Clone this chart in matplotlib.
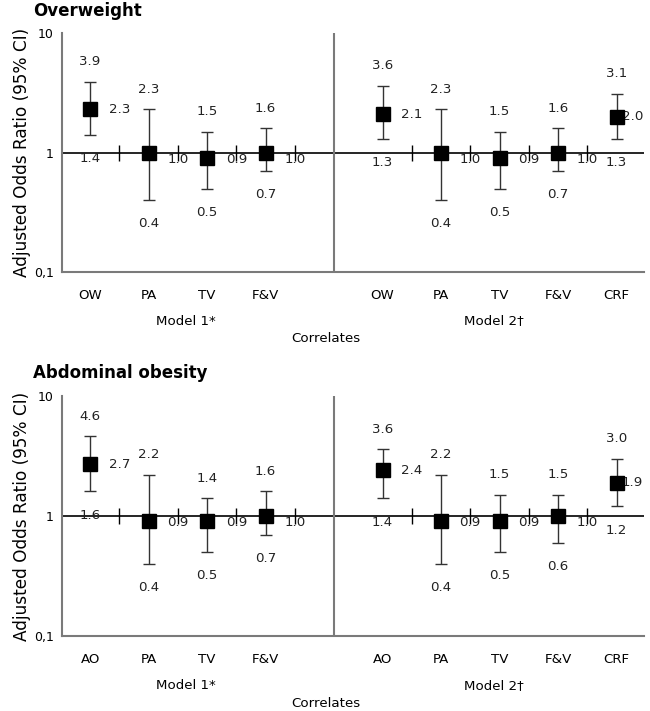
import numpy as np
import matplotlib
matplotlib.use('Agg')
import matplotlib.pyplot as plt
import matplotlib.transforms as mtrans

# data: odds ratio estimate, lower and upper 95% CI
ow_m1_cats = ['OW', 'PA', 'TV', 'F&V']
ow_m1_est = [2.3, 1.0, 0.9, 1.0]
ow_m1_lo = [1.4, 0.4, 0.5, 0.7]
ow_m1_hi = [3.9, 2.3, 1.5, 1.6]

ow_m2_cats = ['OW', 'PA', 'TV', 'F&V', 'CRF']
ow_m2_est = [2.1, 1.0, 0.9, 1.0, 2.0]
ow_m2_lo = [1.3, 0.4, 0.5, 0.7, 1.3]
ow_m2_hi = [3.6, 2.3, 1.5, 1.6, 3.1]

ao_m1_cats = ['AO', 'PA', 'TV', 'F&V']
ao_m1_est = [2.7, 0.9, 0.9, 1.0]
ao_m1_lo = [1.6, 0.4, 0.5, 0.7]
ao_m1_hi = [4.6, 2.2, 1.4, 1.6]

ao_m2_cats = ['AO', 'PA', 'TV', 'F&V', 'CRF']
ao_m2_est = [2.4, 0.9, 0.9, 1.0, 1.9]
ao_m2_lo = [1.4, 0.4, 0.5, 0.6, 1.2]
ao_m2_hi = [3.6, 2.2, 1.5, 1.5, 3.0]

GRAY = '#7a7a7a'
XMIN, XMAX = -0.48, 9.47
DIV = 4.17
FS = 9.6


def draw_panel(ax, groups):
    ticks, labels = [], []
    for start, cats, est, lo, hi in groups:
        x = np.arange(len(cats)) + start
        est = np.array(est); lo = np.array(lo); hi = np.array(hi)
        ax.errorbar(x, est, yerr=[est - lo, hi - est], fmt='none',
                    ecolor='#333333', elinewidth=1, capsize=4, capthick=1, zorder=3)
        ax.plot(x, est, 's', color='black', ms=9.5, zorder=4)
        # separator ticks on the OR=1 line
        ax.plot(x + 0.5, np.ones(len(x)), '|', color='black', ms=11, mew=1, zorder=2)
        for xi, e, l, h in zip(x, est, lo, hi):
            ax.annotate(f'{h:.1f}', (xi, h), xytext=(0, 14.5), textcoords='offset points',
                        ha='center', va='center', fontsize=FS, color='#222222')
            ax.annotate(f'{l:.1f}', (xi, l), xytext=(0, -17), textcoords='offset points',
                        ha='center', va='center', fontsize=FS, color='#222222')
            tx = min(xi + 0.5, XMAX - 0.2)
            if e <= 1.05:
                ax.annotate(f'{e:.1f}', (tx, 1), xytext=(0, -5), textcoords='offset points',
                            ha='center', va='center', fontsize=FS, color='#222222')
            else:
                ax.annotate(f'{e:.1f}', (tx, e), xytext=(0, 0), textcoords='offset points',
                            ha='center', va='center', fontsize=FS, color='#222222')
        ticks += list(x)
        labels += cats

    ax.set_yscale('log')
    ax.set_ylim(0.1, 10)
    ax.set_xlim(XMIN, XMAX)
    ax.axhline(1, color='black', lw=1.2, zorder=1)
    ax.axvline(DIV, color=GRAY, lw=1.5, zorder=1)
    for s in ['top', 'right']:
        ax.spines[s].set_visible(False)
    for s in ['left', 'bottom']:
        ax.spines[s].set_color(GRAY)
        ax.spines[s].set_linewidth(1.5)
    ax.set_yticks([0.1, 1, 10])
    ax.set_yticklabels(['0,1', '1', '10'])
    ax.minorticks_off()
    ax.set_xticks(ticks)
    ax.set_xticklabels(labels)
    ax.tick_params(axis='x', length=0, pad=12, labelsize=FS)
    ax.tick_params(axis='y', length=0, pad=6, labelsize=9)
    ax.set_ylabel('Adjusted Odds Ratio (95% CI)', fontsize=12.2, labelpad=2)
    tr = mtrans.blended_transform_factory(ax.transData, ax.transAxes)
    ax.text(1.64, -0.205, 'Model 1*', transform=tr, ha='center', va='center', fontsize=FS)
    ax.text(6.9, -0.205, 'Model 2\u2020', transform=tr, ha='center', va='center', fontsize=FS)
    ax.text(4.03, -0.28, 'Correlates', transform=tr, ha='center', va='center', fontsize=FS)


fig = plt.figure(figsize=(6.5, 7.11), dpi=100)
ax1 = fig.add_axes([0.0954, 0.6174, 0.8954, 0.3361])
ax2 = fig.add_axes([0.0954, 0.1055, 0.8954, 0.3376])

draw_panel(ax1, [(0, ow_m1_cats, ow_m1_est, ow_m1_lo, ow_m1_hi),
                 (5, ow_m2_cats, ow_m2_est, ow_m2_lo, ow_m2_hi)])
draw_panel(ax2, [(0, ao_m1_cats, ao_m1_est, ao_m1_lo, ao_m1_hi),
                 (5, ao_m2_cats, ao_m2_est, ao_m2_lo, ao_m2_hi)])

fig.text(0.051, 1 - 11 / 711, 'Overweight', fontsize=12, fontweight='bold', va='center')
fig.text(0.051, 1 - 373 / 711, 'Abdominal obesity', fontsize=12, fontweight='bold', va='center')

fig.savefig('out.png', dpi=100)
